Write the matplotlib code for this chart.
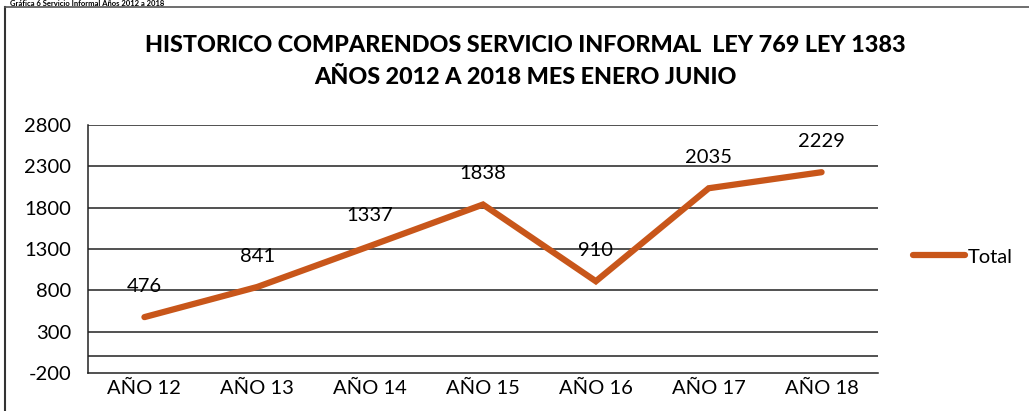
import matplotlib
matplotlib.use("Agg")
import matplotlib.pyplot as plt
from matplotlib.lines import Line2D

categories = ["AÑO 12", "AÑO 13", "AÑO 14", "AÑO 15", "AÑO 16", "AÑO 17", "AÑO 18"]
total = [476, 841, 1337, 1838, 910, 2035, 2229]
yticks = [-200, 300, 800, 1300, 1800, 2300, 2800]

plt.rcParams["font.family"] = ["Lato", "DejaVu Sans"]
plt.rcParams["axes.unicode_minus"] = False

W, H = 1029, 411
fig = plt.figure(figsize=(W / 100, H / 100), dpi=100)

# outer frame of the chart (only left and top are in the picture)
fig.add_artist(Line2D([5 / W, 5 / W], [0, 1 - 7 / H], color="#333333", lw=1.5))
fig.add_artist(Line2D([5 / W, 1], [1 - 7 / H, 1 - 7 / H], color="#555555", lw=1.2))
fig.text(10 / W, 1 - 0.5 / H, "Gráfica 6 Servicio Informal Años 2012 a 2018",
         fontsize=5.5, fontweight="bold", va="top", ha="left")

ax = fig.add_axes([88 / W, 1 - 373 / H, (878 - 88) / W, (373 - 125) / H])
x = list(range(len(categories)))
ax.plot(x, total, color="#C8561A", lw=4.5, solid_capstyle="round",
        solid_joinstyle="miter", label="Total", zorder=3)
for xi, v in zip(x, total):
    ax.annotate(str(v), (xi, v), xytext=(0, 16), textcoords="offset points",
                ha="center", va="bottom", fontsize=14.5)

ax.set_xlim(-0.5, len(categories) - 0.5)
ax.set_ylim(-200, 2800)
ax.set_yticks(yticks)
ax.set_xticks(x)
ax.set_xticklabels(categories)
ax.tick_params(length=0, labelsize=14.5, pad=5)
ax.tick_params(axis="y", pad=12)
for yv in yticks[1:]:
    ax.axhline(yv, color="#222222", lw=1.1, zorder=1)
ax.axhline(0, color="#222222", lw=1.1, zorder=1)
for s in ["top", "right"]:
    ax.spines[s].set_visible(False)
for s in ["left", "bottom"]:
    ax.spines[s].set_color("#222222")
    ax.spines[s].set_linewidth(1.1)

fig.text(0.5 * (145 + 905) / W, 1 - 45 / H,
         "HISTORICO COMPARENDOS SERVICIO INFORMAL  LEY 769 LEY 1383",
         ha="center", va="center", fontsize=16.8, fontweight="black")
fig.text(0.5 * (145 + 905) / W, 1 - 78 / H, "AÑOS 2012 A 2018 MES ENERO JUNIO",
         ha="center", va="center", fontsize=16.8, fontweight="black")

fig.legend(handles=[Line2D([0], [0], color="#C8561A", lw=4.5, solid_capstyle="round")],
           labels=["Total"], loc="center left", bbox_to_anchor=(913 / W, 1 - 257 / H),
           frameon=False, fontsize=14.5, handlelength=2.6, handletextpad=0.1,
           borderpad=0, borderaxespad=0)

fig.savefig("out.png", dpi=100)
